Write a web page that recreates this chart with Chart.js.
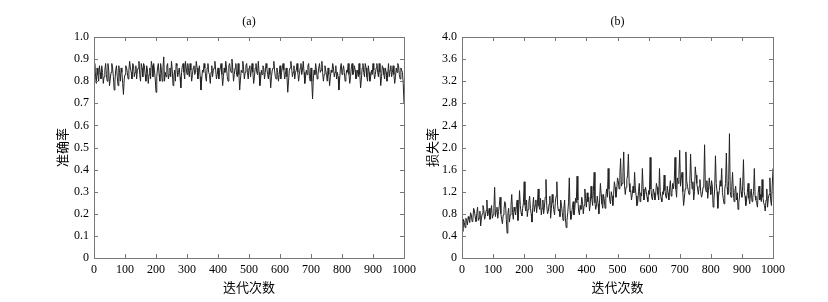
<!DOCTYPE html>
<html>
<head>
<meta charset="utf-8">
<script src="https://cdn.jsdelivr.net/npm/chart.js@4"></script>
<style>
  body { margin: 0; background: #fff; }
  .panel { position: absolute; left: 0; top: 0; width: 828px; height: 302px; }
</style>
</head>
<body>
<div class="panel"><canvas id="chartA"></canvas></div>
<div class="panel"><canvas id="chartB"></canvas></div>
<script>
// iteration step between samples
const STEP = 2.5;

const X_TICKS = ['0', '100', '200', '300', '400', '500', '600', '700', '800', '900', '1000'];
const Y_TICKS_A = ['0', '0.1', '0.2', '0.3', '0.4', '0.5', '0.6', '0.7', '0.8', '0.9', '1.0'];
const Y_TICKS_B = ['0', '0.4', '0.8', '1.2', '1.6', '2.0', '2.4', '2.8', '3.2', '3.6', '4.0'];

// accuracy (a)
const accuracy = [
  0.85,0.88,0.82,0.79,0.86,0.83,0.80,0.87,0.84,0.81,0.87,0.84,0.79,0.82,0.85,0.88,0.83,0.80,0.88,0.85,
  0.78,0.81,0.84,0.88,0.86,0.82,0.76,0.80,0.85,0.87,0.82,0.78,0.87,0.84,0.80,0.86,0.84,0.79,0.74,0.81,0.83,
  0.87,0.86,0.84,0.81,0.85,0.89,0.86,0.84,0.81,0.88,0.87,0.82,0.84,0.87,0.81,0.85,0.86,0.89,0.83,0.80,
  0.88,0.86,0.82,0.88,0.87,0.83,0.80,0.87,0.85,0.79,0.83,0.86,0.81,0.89,0.87,0.82,0.88,0.85,0.81,0.75,
  0.82,0.86,0.88,0.83,0.80,0.88,0.85,0.80,0.86,0.91,0.80,0.84,0.82,0.87,0.88,0.81,0.83,0.86,0.82,0.89,
  0.85,0.78,0.82,0.85,0.80,0.88,0.87,0.82,0.84,0.86,0.82,0.77,0.84,0.87,0.88,0.84,0.81,0.89,0.86,0.83,
  0.88,0.85,0.82,0.88,0.85,0.80,0.83,0.86,0.87,0.83,0.84,0.89,0.86,0.81,0.84,0.87,0.82,0.76,0.81,0.85,
  0.84,0.88,0.86,0.82,0.80,0.86,0.88,0.84,0.83,0.79,0.84,0.87,0.82,0.85,0.86,0.89,0.85,0.81,0.83,0.86,
  0.81,0.84,0.86,0.88,0.83,0.78,0.82,0.86,0.84,0.89,0.86,0.82,0.80,0.87,0.88,0.85,0.84,0.90,0.86,0.80,
  0.83,0.86,0.88,0.83,0.82,0.88,0.83,0.76,0.81,0.85,0.84,0.89,0.86,0.81,0.84,0.87,0.88,0.84,0.81,0.86,
  0.87,0.82,0.85,0.88,0.84,0.79,0.82,0.86,0.88,0.84,0.83,0.89,0.84,0.78,0.81,0.85,0.83,0.87,0.86,0.81,
  0.84,0.88,0.86,0.83,0.81,0.86,0.83,0.77,0.82,0.85,0.86,0.89,0.85,0.82,0.81,0.86,0.84,0.80,0.83,0.87,
  0.81,0.84,0.86,0.88,0.85,0.81,0.83,0.86,0.82,0.75,0.80,0.85,0.86,0.89,0.86,0.82,0.84,0.87,0.81,0.84,
  0.85,0.88,0.84,0.80,0.83,0.86,0.88,0.83,0.85,0.89,0.84,0.79,0.82,0.85,0.83,0.87,0.88,0.82,0.80,0.86,
  0.80,0.72,0.81,0.85,0.83,0.88,0.85,0.81,0.83,0.86,0.88,0.84,0.85,0.89,0.84,0.80,0.83,0.87,0.85,0.83,
  0.80,0.86,0.83,0.78,0.82,0.85,0.84,0.88,0.86,0.82,0.84,0.87,0.81,0.84,0.82,0.76,0.81,0.86,0.88,0.83,
  0.85,0.87,0.84,0.80,0.82,0.85,0.84,0.88,0.83,0.79,0.82,0.86,0.88,0.83,0.84,0.87,0.85,0.81,0.83,0.85,
  0.82,0.88,0.83,0.77,0.81,0.86,0.88,0.84,0.82,0.88,0.86,0.82,0.80,0.87,0.84,0.80,0.82,0.85,0.83,0.88,
  0.85,0.81,0.83,0.86,0.88,0.84,0.82,0.88,0.84,0.78,0.82,0.87,0.86,0.83,0.81,0.86,0.84,0.80,0.83,0.88,
  0.82,0.85,0.87,0.82,0.84,0.87,0.83,0.79,0.82,0.86,0.84,0.88,0.87,0.83,0.81,0.86,0.85,0.84,0.79,0.70
];

// loss (b)
const loss = [
  0.62,0.48,0.70,0.64,0.55,0.72,0.68,0.60,0.75,0.70,0.64,0.82,0.78,0.66,0.70,0.90,0.85,0.74,0.66,0.80,
  0.92,0.68,0.72,0.85,0.58,0.72,0.80,0.95,0.88,0.70,0.75,0.86,1.05,0.76,0.82,0.90,0.70,0.82,0.95,0.72,0.78,
  0.90,1.28,0.75,0.85,0.92,0.72,0.84,0.95,1.10,0.80,0.70,0.62,0.78,0.88,1.02,0.98,0.70,0.45,0.80,0.90,
  0.65,0.78,0.95,1.15,0.82,0.70,0.92,0.85,0.78,0.95,1.05,0.68,0.88,1.22,0.95,0.82,0.76,0.90,1.00,1.38,
  0.96,0.85,1.05,0.75,0.88,1.02,1.12,0.90,0.80,0.65,0.92,1.10,0.84,0.95,1.05,0.82,0.98,1.25,0.94,0.88,
  1.08,0.78,0.90,1.05,0.80,0.92,1.10,1.42,0.95,0.80,0.85,0.98,1.12,0.72,0.90,1.15,1.00,0.88,0.78,1.00,
  1.12,1.38,0.95,0.85,0.88,0.75,1.05,0.95,0.82,0.68,0.90,1.05,0.72,0.55,0.68,0.82,1.00,1.45,0.85,0.70,
  0.78,0.92,1.02,0.78,0.88,1.08,1.00,1.48,1.05,0.85,0.78,0.95,0.88,1.10,1.02,0.80,0.95,1.25,1.08,0.92,
  1.18,1.02,1.10,0.85,0.98,1.30,1.08,0.95,1.20,1.55,1.00,0.88,0.96,1.12,0.98,0.80,1.05,1.35,1.15,0.98,
  0.90,1.15,1.05,0.90,1.12,1.25,1.10,1.62,1.25,1.05,0.98,1.20,1.12,0.95,1.15,1.38,1.28,1.10,1.22,1.45,
  1.40,1.25,1.50,1.80,1.30,1.35,1.55,1.92,1.32,1.15,1.28,1.42,1.50,1.88,1.35,1.20,1.22,1.05,1.15,1.30,
  1.18,1.55,1.25,1.12,0.95,1.00,1.20,1.35,1.02,1.18,1.12,1.62,1.25,1.05,1.15,1.28,1.20,1.10,1.02,1.22,
  1.15,1.82,1.25,1.10,1.05,1.25,1.18,1.05,1.12,1.35,1.28,1.15,1.05,1.62,1.20,1.08,1.02,1.20,1.15,1.50,
  1.22,1.12,1.08,1.30,1.18,1.05,1.25,1.40,1.12,1.18,1.35,1.25,1.40,1.82,1.25,1.10,1.45,1.35,1.50,1.95,
  1.30,1.45,1.55,1.20,0.95,1.08,1.25,1.92,1.40,1.30,1.22,1.15,1.35,1.88,1.45,1.25,1.38,1.05,1.20,1.65,
  1.50,1.35,1.25,1.15,1.30,1.42,1.20,1.10,1.15,1.28,1.35,2.05,1.30,1.20,1.40,1.08,1.22,1.45,1.30,1.15,
  1.40,1.30,0.92,1.05,1.25,1.85,1.35,1.20,0.90,1.12,1.22,1.40,1.30,1.62,1.18,1.08,0.98,1.25,1.35,1.90,
  1.28,1.15,1.40,2.25,1.20,1.10,1.30,1.55,1.18,1.02,1.22,1.30,1.05,1.18,0.88,1.00,1.12,1.45,1.20,1.10,
  1.30,1.78,1.20,1.12,0.95,1.05,1.18,1.35,1.08,0.98,1.15,1.25,1.02,1.10,1.20,1.62,1.12,1.05,1.00,0.92,
  1.18,1.30,1.05,1.15,1.02,1.42,1.10,1.00,0.95,0.85,1.05,1.25,0.92,1.08,1.15,1.45,1.05,0.95,1.30,1.62
];

const NUM_FONT = { family: '"Liberation Serif", "DejaVu Serif", serif', size: 12 };
const CJK_FONT = { family: '"Noto Sans CJK SC", sans-serif', size: 13 };

// frame plus inward tick marks on all four sides, like matlab
const frameTicks = {
  id: 'frameTicks',
  afterDatasetsDraw(chart) {
    const { ctx, chartArea: a, scales } = chart;
    ctx.save();
    ctx.strokeStyle = '#777';
    ctx.lineWidth = 1;
    ctx.beginPath();
    scales.x.ticks.forEach(t => {
      const px = Math.round(scales.x.getPixelForValue(t.value)) + 0.5;
      ctx.moveTo(px, a.bottom); ctx.lineTo(px, a.bottom - 4);
      ctx.moveTo(px, a.top); ctx.lineTo(px, a.top + 4);
    });
    scales.y.ticks.forEach(t => {
      const py = Math.round(scales.y.getPixelForValue(t.value)) + 0.5;
      ctx.moveTo(a.left, py); ctx.lineTo(a.left + 4, py);
      ctx.moveTo(a.right, py); ctx.lineTo(a.right - 4, py);
    });
    ctx.stroke();
    ctx.strokeRect(Math.round(a.left) + 0.5, Math.round(a.top) + 0.5,
      Math.round(a.right - a.left), Math.round(a.bottom - a.top));
    ctx.restore();
  }
};

function makeChart(id, title, yTitle, values, yMax, yStep, yTicks, yWidth, yTitlePad, rightPad) {
  const points = values.map((v, i) => ({ x: i * STEP, y: v }));
  return new Chart(document.getElementById(id), {
    type: 'line',
    data: {
      datasets: [{
        data: points,
        borderColor: '#222',
        borderWidth: 1,
        pointRadius: 0,
        tension: 0
      }]
    },
    options: {
      responsive: true,
      maintainAspectRatio: false,
      animation: false,
      layout: { padding: { right: rightPad, bottom: 0, left: 0 } },
      plugins: {
        legend: { display: false },
        tooltip: { enabled: false },
        title: {
          display: true,
          text: title,
          fullSize: false,
          color: '#000',
          font: { family: NUM_FONT.family, size: 12, weight: 'normal', lineHeight: '14px' },
          padding: { top: 15, bottom: 8 }
        }
      },
      scales: {
        x: {
          type: 'linear',
          min: 0,
          max: 1000,
          grid: { display: false, drawTicks: false },
          border: { display: false },
          ticks: {
            stepSize: 100,
            padding: 5,
            color: '#000',
            font: NUM_FONT,
            maxRotation: 0,
            callback: (v, i) => X_TICKS[i]
          },
          title: { display: true, text: '迭代次数', color: '#000', font: CJK_FONT, padding: { top: 0, bottom: 7 } },
          afterFit: s => { s.height = 44; }
        },
        y: {
          min: 0,
          max: yMax,
          grid: { display: false, drawTicks: false },
          border: { display: false },
          ticks: {
            stepSize: yStep,
            padding: 5,
            color: '#000',
            font: NUM_FONT,
            callback: (v, i) => yTicks[i]
          },
          title: { display: true, text: yTitle, color: '#000', font: CJK_FONT, padding: { top: yTitlePad, bottom: 0 } },
          afterFit: s => { s.width = yWidth; }
        }
      }
    },
    plugins: [frameTicks]
  });
}

makeChart('chartA', '(a)', '准确率', accuracy, 1.0, 0.1, Y_TICKS_A, 94, 54, 424);
makeChart('chartB', '(b)', '损失率', loss, 4.0, 0.4, Y_TICKS_B, 462, 424, 55);
</script>
</body>
</html>
